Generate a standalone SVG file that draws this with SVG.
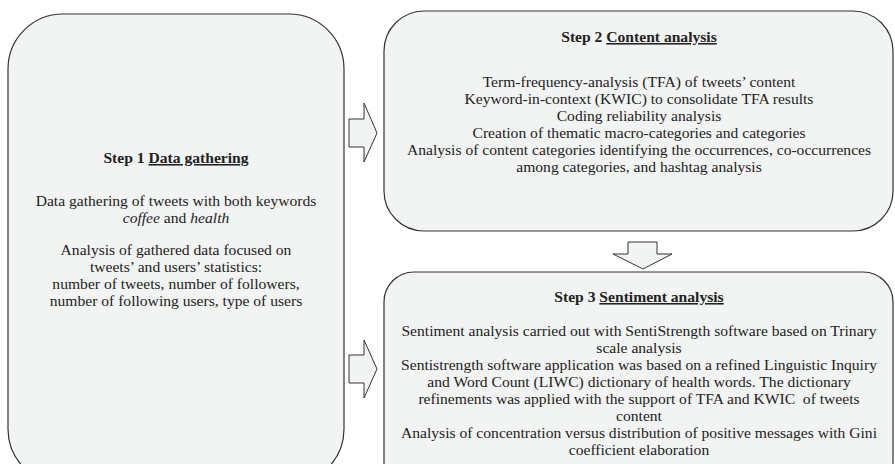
<svg xmlns="http://www.w3.org/2000/svg" width="895" height="464" viewBox="0 0 895 464">
<style>
.box{fill:#f2f3f3;stroke:#333;stroke-width:1.2}
.arr{fill:#f2f3f3;stroke:#333;stroke-width:1}
text{font-family:"Liberation Serif","Times New Roman",serif;font-size:15.6px;fill:#222;text-anchor:middle}
.b{font-weight:bold}
.u{text-decoration:underline}
</style>
<rect width="895" height="464" fill="#fff"/>
<g id="connectors">
<path class="arr" d="M349,119 H364 V103 L377,133 L364,162 V147 H349 Z"/>
<path class="arr" d="M349,355 H364 V340 L377,369 L364,398 V383 H349 Z"/>
<path class="arr" d="M628,242 H657 V254 H672 L643,269 L613,254 H628 Z"/>
</g>
<g id="step1">
<rect class="box" x="8" y="14" width="336" height="470" rx="55" ry="55"/>
<text x="176" y="163"><tspan class="b">Step 1 </tspan><tspan class="b u">Data gathering</tspan></text>
<text x="176" y="206">Data gathering of tweets with both keywords</text>
<text x="176" y="223"><tspan font-style="italic">coffee</tspan> and <tspan font-style="italic">health</tspan></text>
<text x="176" y="255">Analysis of gathered data focused on</text>
<text x="176" y="272">tweets’ and users’ statistics:</text>
<text x="176" y="289">number of tweets, number of followers,</text>
<text x="176" y="306">number of following users, type of users</text>
</g>
<g id="step2">
<rect class="box" x="384" y="11" width="509" height="220" rx="40" ry="40"/>
<text x="639" y="42"><tspan class="b">Step 2 </tspan><tspan class="b u">Content analysis</tspan></text>
<text x="639" y="87">Term-frequency-analysis (TFA) of tweets’ content</text>
<text x="639" y="104">Keyword-in-context (KWIC) to consolidate TFA results</text>
<text x="639" y="121">Coding reliability analysis</text>
<text x="639" y="138">Creation of thematic macro-categories and categories</text>
<text x="639" y="155">Analysis of content categories identifying the occurrences, co-occurrences</text>
<text x="639" y="172">among categories, and hashtag analysis</text>
</g>
<g id="step3">
<rect class="box" x="384" y="272" width="509" height="220" rx="30" ry="30"/>
<text x="639" y="302"><tspan class="b">Step 3 </tspan><tspan class="b u">Sentiment analysis</tspan></text>
<text x="639" y="336">Sentiment analysis carried out with SentiStrength software based on Trinary</text>
<text x="639" y="353">scale analysis</text>
<text x="639" y="370">Sentistrength software application was based on a refined Linguistic Inquiry</text>
<text x="639" y="387">and Word Count (LIWC) dictionary of health words. The dictionary</text>
<text x="639" y="404" xml:space="preserve">refinements was applied with the support of TFA and KWIC  of tweets</text>
<text x="639" y="421">content</text>
<text x="639" y="438">Analysis of concentration versus distribution of positive messages with Gini</text>
<text x="639" y="455">coefficient elaboration</text>
</g>
</svg>
